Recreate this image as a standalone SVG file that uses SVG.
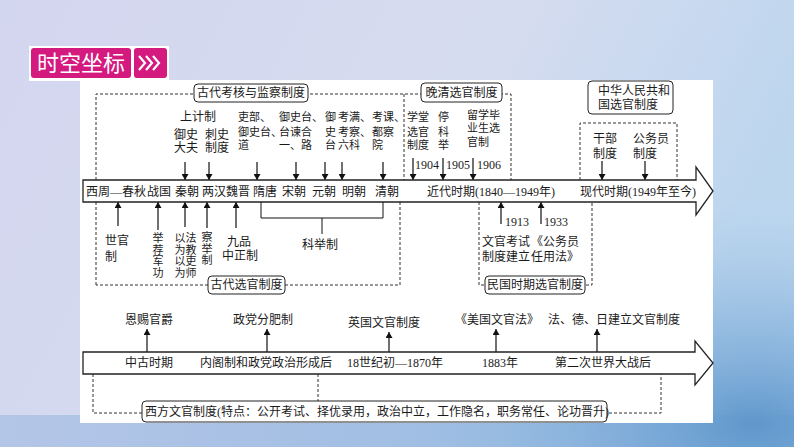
<svg xmlns="http://www.w3.org/2000/svg" width="794" height="447" viewBox="0 0 794 447">
<defs>
<linearGradient id="bg" x1="0" y1="0" x2="1" y2="0.3">
<stop offset="0" stop-color="#d3d6ef"/>
<stop offset="0.6" stop-color="#d6dcf0"/>
<stop offset="1" stop-color="#bcd6ee"/>
</linearGradient>
<radialGradient id="blob" cx="0.95" cy="0.95" r="0.5">
<stop offset="0" stop-color="#5f97cc" stop-opacity="1"/>
<stop offset="0.5" stop-color="#86b2dc" stop-opacity="0.6"/>
<stop offset="1" stop-color="#a8c8e8" stop-opacity="0"/>
</radialGradient>
<linearGradient id="bottom" x1="0" y1="0" x2="1" y2="0">
<stop offset="0" stop-color="#b4c6e8"/>
<stop offset="1" stop-color="#8fb6de"/>
</linearGradient>
<marker id="ah" markerUnits="userSpaceOnUse" markerWidth="6" markerHeight="7" refX="6" refY="3.5" orient="auto">
<path d="M0,0 L6,3.5 L0,7 Z" fill="#111"/>
</marker>
<style>
.t{font-family:"Liberation Serif","Noto Sans CJK SC",serif;font-size:12px;fill:#1a1a1a}
.s{font-family:"Liberation Serif","Noto Sans CJK SC",serif;font-size:11px;fill:#1a1a1a}
.y{font-family:"Liberation Serif","Noto Sans CJK SC",serif;font-size:12px;fill:#1a1a1a}
.c{text-anchor:middle}
.dash{fill:none;stroke:#333;stroke-width:1;stroke-dasharray:3 2}
.lbl{fill:#fff;stroke:#222;stroke-width:1}
.ar{stroke:#111;stroke-width:1.2;fill:none;marker-end:url(#ah)}
.ln{stroke:#111;stroke-width:1;fill:none}
.big{fill:#fff;stroke:#222;stroke-width:1.3}
</style>
</defs>
<rect width="794" height="447" fill="url(#bg)"/>
<rect x="0" y="415" width="794" height="32" fill="url(#bottom)"/>
<rect width="794" height="447" fill="url(#blob)"/>
<rect x="80" y="80" width="633" height="343" fill="#fff"/>

<g id="title">
<rect x="29" y="46" width="140" height="35" fill="#fff"/>
<rect x="31" y="48" width="100" height="30" rx="3" fill="#d4197f"/>
<rect x="134" y="48" width="33" height="30" rx="3" fill="#d4197f"/>
<text x="81" y="71" text-anchor="middle" style="font-family:'Noto Sans CJK SC',sans-serif;font-size:22px;fill:#fff">时空坐标</text>
<g fill="none" stroke="#fff" stroke-width="2.2">
<polyline points="139,56 145,63 139,70"/>
<polyline points="146,56 152,63 146,70"/>
<polyline points="153,56 159,63 153,70"/>
</g>
</g>

<g id="connectors">
<path class="dash" d="M96,285 V94 H511 V180"/>
<path class="dash" d="M404,94 V180"/>
<path class="dash" d="M400,202 V285 H96"/>
<path class="dash" d="M580,180 V123 H677 V180"/>
<path class="dash" d="M479,202 V285 H592 V202"/>
<path class="dash" d="M93,374 V413 H661 V374"/>
<path class="dash" d="M318,374 V401"/>
<line class="ar" x1="185" y1="162" x2="185" y2="180"/>
<line class="ar" x1="209" y1="162" x2="209" y2="180"/>
<line class="ar" x1="257" y1="162" x2="257" y2="180"/>
<line class="ar" x1="296" y1="162" x2="296" y2="180"/>
<line class="ar" x1="325" y1="162" x2="325" y2="180"/>
<line class="ar" x1="342" y1="162" x2="342" y2="180"/>
<line class="ar" x1="383" y1="162" x2="383" y2="180"/>
<line class="ar" x1="413" y1="158" x2="413" y2="180"/>
<line class="ar" x1="443" y1="158" x2="443" y2="180"/>
<line class="ar" x1="473" y1="158" x2="473" y2="180"/>
<line class="ar" x1="602" y1="161" x2="602" y2="180"/>
<line class="ar" x1="645" y1="161" x2="645" y2="180"/>
<line class="ar" x1="118" y1="226" x2="118" y2="202"/>
<line class="ar" x1="158" y1="230" x2="158" y2="202"/>
<line class="ar" x1="185" y1="227" x2="185" y2="202"/>
<line class="ar" x1="207" y1="228" x2="207" y2="202"/>
<line class="ar" x1="236" y1="228" x2="236" y2="202"/>
<line class="ar" x1="501" y1="224" x2="501" y2="202"/>
<line class="ar" x1="541" y1="224" x2="541" y2="202"/>
<path class="ln" d="M261,202 V218 H383 V202 M322,218 V234"/>
<line class="ar" x1="147" y1="352" x2="147" y2="329"/>
<line class="ar" x1="267" y1="352" x2="267" y2="329"/>
<line class="ar" x1="389" y1="352" x2="389" y2="332"/>
<line class="ar" x1="496" y1="352" x2="496" y2="329"/>
<line class="ar" x1="597" y1="352" x2="597" y2="329"/>
</g>

<g id="timeline-china">
<path class="big" d="M83,180 H696 V167 L713,191 L696,215 V202 H83 Z"/>
<text class="t" x="86" y="196">西周—春秋</text>
<text class="t" x="147" y="196">战国</text>
<text class="t" x="175" y="196">秦朝</text>
<text class="t" x="202" y="196">两汉</text>
<text class="t" x="226" y="196">魏晋</text>
<text class="t" x="253" y="196">隋唐</text>
<text class="t" x="282" y="196">宋朝</text>
<text class="t" x="312" y="196">元朝</text>
<text class="t" x="342" y="196">明朝</text>
<text class="t" x="375" y="196">清朝</text>
<text class="t" x="427" y="196">近代时期(1840—1949年)</text>
<text class="t" x="580" y="196">现代时期(1949年至今)</text>
</g>

<g id="label-ancient-exam">
<rect class="lbl" x="194" y="84" width="114" height="18" rx="4"/>
<text class="t c" x="251" y="97">古代考核与监察制度</text>
</g>
<g id="label-lateqing">
<rect class="lbl" x="421" y="83" width="81" height="19" rx="4"/>
<text class="t c" x="461.5" y="97">晚清选官制度</text>
</g>
<g id="label-prc">
<rect class="lbl" x="588" y="81" width="85" height="33" rx="4"/>
<text class="t" x="598" y="95">中华人民共和</text>
<text class="t" x="598" y="109">国选官制度</text>
</g>
<g id="label-ancient-select">
<rect class="lbl" x="208" y="276" width="77" height="18" rx="4"/>
<text class="t c" x="246.5" y="289">古代选官制度</text>
</g>
<g id="label-roc">
<rect class="lbl" x="485" y="276" width="100" height="18" rx="4"/>
<text class="t c" x="535" y="289">民国时期选官制度</text>
</g>

<g id="top-items">
<text class="t" x="180" y="121">上计制</text>
<text class="t" x="174" y="139">御史</text>
<text class="t" x="174" y="152">大夫</text>
<text class="t" x="205" y="139">刺史</text>
<text class="t" x="205" y="152">制度</text>
<text class="s" x="238" y="121">吏部、</text>
<text class="s" x="238" y="136">御史台、</text>
<text class="s" x="238" y="149">道</text>
<text class="s" x="279" y="121">御史台、</text>
<text class="s" x="279" y="136">台谏合</text>
<text class="s" x="279" y="149">一、路</text>
<text class="s" x="325" y="121">御</text>
<text class="s" x="325" y="136">史</text>
<text class="s" x="325" y="149">台</text>
<text class="s" x="338" y="121">考满、</text>
<text class="s" x="338" y="136">考察、</text>
<text class="s" x="338" y="149">六科</text>
<text class="s" x="372" y="121">考课、</text>
<text class="s" x="372" y="136">都察</text>
<text class="s" x="372" y="149">院</text>
<text class="s" x="407" y="121">学堂</text>
<text class="s" x="407" y="136">选官</text>
<text class="s" x="407" y="149">制度</text>
<text class="s" x="438" y="121">停</text>
<text class="s" x="438" y="136">科</text>
<text class="s" x="438" y="149">举</text>
<text class="s" x="467" y="119">留学毕</text>
<text class="s" x="467" y="132">业生选</text>
<text class="s" x="467" y="146">官制</text>
<text class="y" x="415" y="169">1904</text>
<text class="y" x="446" y="169">1905</text>
<text class="y" x="477" y="169">1906</text>
<text class="t" x="593" y="143">干部</text>
<text class="t" x="593" y="158">制度</text>
<text class="t" x="633" y="143">公务员</text>
<text class="t" x="633" y="158">制度</text>
</g>

<g id="bottom-items">
<text class="t" x="105" y="245">世官</text>
<text class="t" x="105" y="261">制</text>
<text class="s c" x="158" y="242">举</text>
<text class="s c" x="158" y="254">荐</text>
<text class="s c" x="158" y="265">军</text>
<text class="s c" x="158" y="277">功</text>
<text class="s c" x="180" y="242">以</text>
<text class="s c" x="180" y="254">为</text>
<text class="s c" x="180" y="265">以</text>
<text class="s c" x="180" y="277">为</text>
<text class="s c" x="191" y="242">法</text>
<text class="s c" x="191" y="254">教</text>
<text class="s c" x="191" y="265">吏</text>
<text class="s c" x="191" y="277">师</text>
<text class="s c" x="207" y="241">察</text>
<text class="s c" x="207" y="253">举</text>
<text class="s c" x="207" y="264">制</text>
<text class="t c" x="239" y="246">九品</text>
<text class="t c" x="240" y="260">中正制</text>
<text class="t c" x="320" y="249">科举制</text>
<text class="y" x="505" y="226">1913</text>
<text class="y" x="544" y="226">1933</text>
<text class="t" x="482" y="246">文官考试</text>
<text class="t" x="482" y="261">制度建立</text>
<text class="t" x="531" y="246">《公务员</text>
<text class="t" x="531" y="261">任用法》</text>
</g>

<g id="timeline-west">
<path class="big" d="M83,352 H695 V341 L713,363 L695,385 V374 H83 Z"/>
<text class="t" x="125" y="367">中古时期</text>
<text class="t" x="200" y="367">内阁制和政党政治形成后</text>
<text class="t" x="347" y="367">18世纪初—1870年</text>
<text class="t" x="482" y="367">1883年</text>
<text class="t" x="555" y="367">第二次世界大战后</text>
</g>
<g id="west-items">
<text class="t" x="125" y="324">恩赐官爵</text>
<text class="t" x="233" y="324">政党分肥制</text>
<text class="t" x="348" y="327">英国文官制度</text>
<text class="t" x="455" y="324">《美国文官法》</text>
<text class="t" x="548" y="324">法、德、日建立文官制度</text>
</g>
<g id="label-west">
<rect class="lbl" x="142" y="401" width="465" height="21" rx="4"/>
<text class="t" x="145" y="416">西方文官制度(特点：公开考试、择优录用，政治中立，工作隐名，职务常任、论功晋升)</text>
</g>
</svg>
